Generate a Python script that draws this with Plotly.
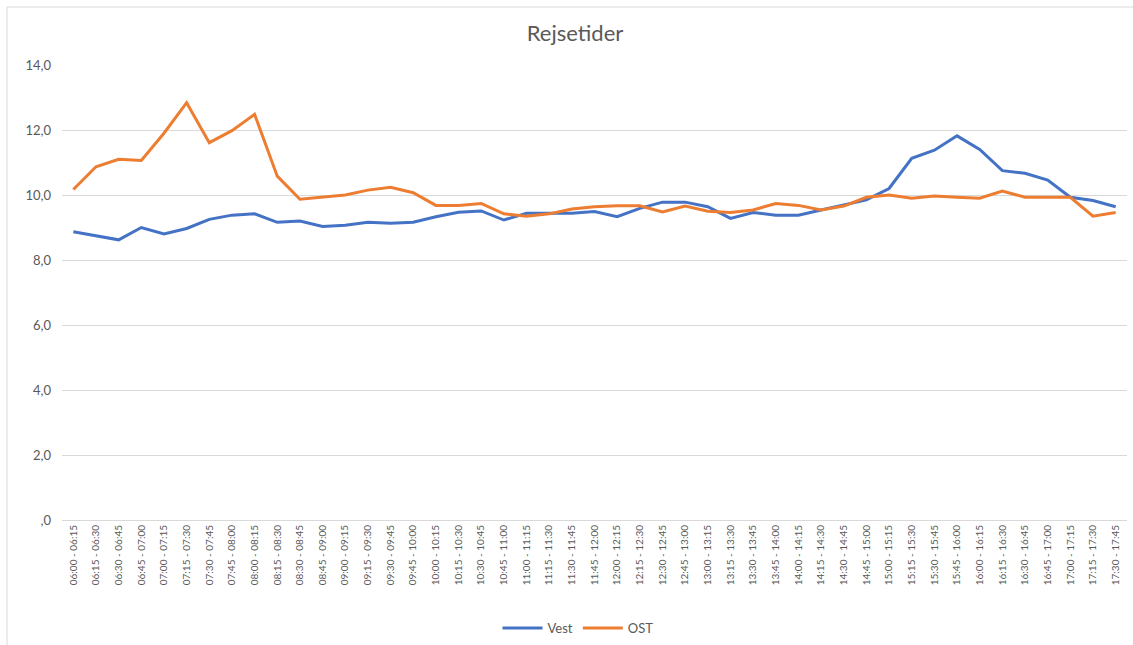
import plotly.graph_objects as go

categories = [
    "06:00 - 06:15", "06:15 - 06:30", "06:30 - 06:45", "06:45 - 07:00", "07:00 - 07:15",
    "07:15 - 07:30", "07:30 - 07:45", "07:45 - 08:00", "08:00 - 08:15", "08:15 - 08:30",
    "08:30 - 08:45", "08:45 - 09:00", "09:00 - 09:15", "09:15 - 09:30", "09:30 - 09:45",
    "09:45 - 10:00", "10:00 - 10:15", "10:15 - 10:30", "10:30 - 10:45", "10:45 - 11:00",
    "11:00 - 11:15", "11:15 - 11:30", "11:30 - 11:45", "11:45 - 12:00", "12:00 - 12:15",
    "12:15 - 12:30", "12:30 - 12:45", "12:45 - 13:00", "13:00 - 13:15", "13:15 - 13:30",
    "13:30 - 13:45", "13:45 - 14:00", "14:00 - 14:15", "14:15 - 14:30", "14:30 - 14:45",
    "14:45 - 15:00", "15:00 - 15:15", "15:15 - 15:30", "15:30 - 15:45", "15:45 - 16:00",
    "16:00 - 16:15", "16:15 - 16:30", "16:30 - 16:45", "16:45 - 17:00", "17:00 - 17:15",
    "17:15 - 17:30", "17:30 - 17:45",
]

vest = [
    8.87, 8.74, 8.62, 9.00, 8.80, 8.97, 9.25, 9.38, 9.42, 9.16,
    9.20, 9.03, 9.07, 9.16, 9.13, 9.16, 9.33, 9.47, 9.51, 9.23,
    9.44, 9.44, 9.44, 9.49, 9.33, 9.59, 9.78, 9.78, 9.64, 9.28,
    9.46, 9.38, 9.38, 9.54, 9.69, 9.85, 10.20, 11.13, 11.38, 11.82,
    11.40, 10.75, 10.67, 10.46, 9.93, 9.83, 9.64,
]

ost = [
    10.17, 10.87, 11.10, 11.06, 11.90, 12.84, 11.61, 11.98, 12.48, 10.58,
    9.87, 9.93, 10.00, 10.15, 10.24, 10.07, 9.68, 9.68, 9.74, 9.42,
    9.35, 9.42, 9.57, 9.64, 9.67, 9.67, 9.48, 9.66, 9.50, 9.46,
    9.54, 9.74, 9.68, 9.54, 9.66, 9.93, 10.00, 9.90, 9.97, 9.93,
    9.90, 10.12, 9.93, 9.93, 9.93, 9.35, 9.46,
]

y_tickvals = [0, 2, 4, 6, 8, 10, 12, 14]
y_ticktext = [",0", "2,0", "4,0", "6,0", "8,0", "10,0", "12,0", "14,0"]

font_family = "Lato, 'Open Sans', sans-serif"
grey = "#595959"

fig = go.Figure()
fig.add_trace(go.Scatter(x=categories, y=vest, name="Vest", mode="lines",
                         line=dict(color="#4472C4", width=3)))
fig.add_trace(go.Scatter(x=categories, y=ost, name="OST", mode="lines",
                         line=dict(color="#ED7D31", width=3)))

fig.update_layout(
    width=1133, height=645,
    margin=dict(l=62, r=6, t=65, b=125, autoexpand=False),
    paper_bgcolor="white", plot_bgcolor="white",
    font=dict(family=font_family, color=grey, size=12),
    title=dict(text="Rejsetider", xref="container", x=575/1133, xanchor="center",
               yref="container", y=1 - 33/645, yanchor="middle",
               font=dict(size=22, color=grey, family=font_family)),
    showlegend=True,
    legend=dict(orientation="h", xref="container", x=578/1133, xanchor="center",
                yref="container", y=(645 - 628)/645, yanchor="middle",
                font=dict(size=13, color=grey), itemwidth=40, tracegroupgap=0),
    xaxis=dict(type="category", tickangle=-90, showgrid=False, showline=True,
               linecolor="#d9d9d9", linewidth=1, ticks="", range=[-0.5, 46.5],
               automargin=False, tickfont=dict(size=10, color=grey)),
    yaxis=dict(range=[0, 14], tickvals=y_tickvals, ticktext=y_ticktext,
               showgrid=True, gridcolor="#d9d9d9", gridwidth=1, zeroline=False,
               showline=False, ticks="", automargin=False, ticklabelstandoff=10,
               tickfont=dict(size=13, color=grey)),
)

fig.add_shape(type="rect", xref="paper", yref="paper",
              x0=-55/1065, x1=1.0 + 20/1065, y0=-140/455, y1=1.0 + 58/455,
              line=dict(color="#d9d9d9", width=1), fillcolor="rgba(0,0,0,0)")

fig.write_html("out.html", config={"displayModeBar": False},
               post_script="document.body.style.margin='0';document.body.style.overflow='hidden';")
